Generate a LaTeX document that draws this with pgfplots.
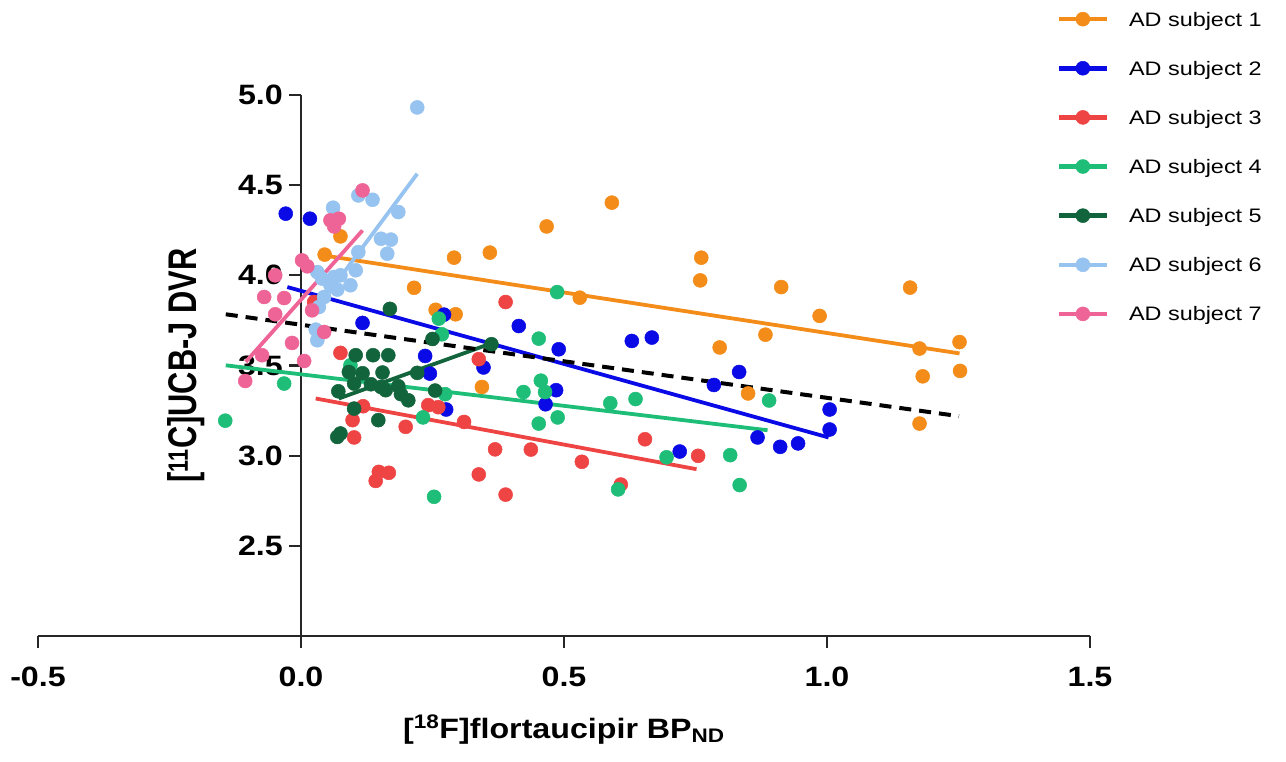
\documentclass[border=0pt]{standalone}
\usepackage{pgfplots}
\pgfplotsset{compat=1.18}
\usepackage{fontspec}
\setmainfont{Liberation Sans}
\newfontfamily\wfont[FakeStretch=1.15]{Liberation Sans}
\newfontfamily\yfont[FakeStretch=0.77]{Liberation Sans}
\newfontfamily\lfont[FakeStretch=1.2]{Liberation Sans}
\definecolor{c1}{RGB}{243,140,25}
\definecolor{c2}{RGB}{10,10,230}
\definecolor{c3}{RGB}{238,68,68}
\definecolor{c4}{RGB}{30,190,120}
\definecolor{c5}{RGB}{18,100,60}
\definecolor{c6}{RGB}{150,195,240}
\definecolor{c7}{RGB}{238,100,150}
\begin{document}
\begin{tikzpicture}
\begin{axis}[
  scale only axis, width=1052pt, height=541pt,
  xmin=-0.5, xmax=1.5, ymin=2, ymax=5,
  axis x line=bottom, axis y line=center,
  axis line style={-, line width=2.2pt, black!85},
  tick align=outside, major tick length=12pt,
  every tick/.style={black!85, line width=2.2pt},
  xtick={-0.5,0,0.5,1,1.5}, xticklabels={-0.5,0.0,0.5,1.0,1.5},
  ytick={2.5,3,3.5,4,4.5,5}, yticklabels={2.5,3.0,3.5,4.0,4.5,5.0},
  hide obscured x ticks=false, hide obscured y ticks=false,
  xticklabel style={font=\wfont\bfseries\fontsize{28}{30}\selectfont, anchor=north, inner sep=0pt, yshift=-19pt},
  yticklabel style={font=\wfont\bfseries\fontsize{28}{30}\selectfont, anchor=east, inner sep=0pt, xshift=-6pt},
  every axis x label/.style={at={(axis description cs:0.5,0)}, anchor=base, yshift=-102pt, font=\wfont\bfseries\fontsize{28}{30}\selectfont},
  every axis y label/.style={at={(axis description cs:0.151,0.5)}, rotate=90, anchor=base, font=\yfont\bfseries\fontsize{40}{44}\selectfont},
  xlabel={[\textsuperscript{18}F]flortaucipir BP\textsubscript{ND}},
  ylabel={[\textsuperscript{11}C]UCB-J DVR},
  clip=false,
  legend image code/.code={\draw[#1, mark repeat=2, mark phase=2] plot coordinates {(0pt,7pt) (23.8pt,7pt) (47.6pt,7pt)}; \path[draw=none] (0pt,0pt) -- (70pt,0pt);},
  legend style={draw=none, fill=none, at={(axis description cs:0.9683,1.1538)}, anchor=north west, inner sep=0pt, row sep=33.5pt, nodes={inner sep=0pt, anchor=base}, font=\lfont\fontsize{19.5}{22}\selectfont},
  legend cell align=left,
  every axis plot/.append style={mark size=7pt},
]
% legend images
\addlegendimage{c1, line width=4.5pt, mark=*, mark size=7pt, mark options={solid, line width=0.5pt}}
\addlegendentry{AD subject 1}
\addlegendimage{c2, line width=4.5pt, mark=*, mark size=7pt, mark options={solid, line width=0.5pt}}
\addlegendentry{AD subject 2}
\addlegendimage{c3, line width=4.5pt, mark=*, mark size=7pt, mark options={solid, line width=0.5pt}}
\addlegendentry{AD subject 3}
\addlegendimage{c4, line width=4.5pt, mark=*, mark size=7pt, mark options={solid, line width=0.5pt}}
\addlegendentry{AD subject 4}
\addlegendimage{c5, line width=4.5pt, mark=*, mark size=7pt, mark options={solid, line width=0.5pt}}
\addlegendentry{AD subject 5}
\addlegendimage{c6, line width=4.5pt, mark=*, mark size=7pt, mark options={solid, line width=0.5pt}}
\addlegendentry{AD subject 6}
\addlegendimage{c7, line width=4.5pt, mark=*, mark size=7pt, mark options={solid, line width=0.5pt}}
\addlegendentry{AD subject 7}
% subject 1
\addplot[only marks, mark=*, c1, line width=0.5pt, forget plot] coordinates {
(0.045,4.115) (0.075,4.216) (0.215,3.931) (0.256,3.809) (0.294,3.784) (0.291,4.098)
(0.359,4.126) (0.467,4.271) (0.530,3.876) (0.591,4.403) (0.344,3.381) (0.761,4.098)
(0.759,3.972) (0.796,3.600) (0.850,3.345) (0.883,3.671) (0.913,3.935) (0.986,3.775)
(1.158,3.932) (1.176,3.594) (1.176,3.178) (1.182,3.440) (1.252,3.630) (1.253,3.470)};
% subject 2
\addplot[only marks, mark=*, c2, line width=0.5pt, forget plot] coordinates {
(-0.029,4.342) (0.017,4.314) (0.117,3.736) (0.236,3.553) (0.245,3.455) (0.272,3.782)
(0.276,3.256) (0.347,3.489) (0.414,3.719) (0.465,3.285) (0.485,3.363) (0.490,3.590)
(0.629,3.636) (0.667,3.655) (0.720,3.023) (0.785,3.392) (0.833,3.464) (0.868,3.101)
(0.911,3.049) (0.945,3.068) (1.005,3.256) (1.005,3.145)};
% subject 3
\addplot[only marks, mark=*, c3, line width=0.5pt, forget plot] coordinates {
(0.025,3.852) (0.075,3.570) (0.118,3.274) (0.098,3.197) (0.101,3.101) (0.148,2.910)
(0.167,2.905) (0.142,2.860) (0.199,3.160) (0.242,3.280) (0.261,3.269) (0.310,3.187)
(0.338,3.535) (0.369,3.035) (0.338,2.896) (0.389,2.784) (0.389,3.852) (0.437,3.034)
(0.534,2.966) (0.608,2.840) (0.654,3.091) (0.755,2.999)};
% subject 4
\addplot[only marks, mark=*, c4, line width=0.5pt, forget plot] coordinates {
(-0.144,3.194) (-0.032,3.400) (0.094,3.501) (0.262,3.760) (0.268,3.673) (0.274,3.341)
(0.232,3.212) (0.253,2.772) (0.423,3.353) (0.452,3.649) (0.456,3.416) (0.464,3.353)
(0.452,3.178) (0.488,3.212) (0.487,3.907) (0.588,3.291) (0.636,3.314) (0.603,2.813)
(0.695,2.991) (0.816,3.003) (0.834,2.837) (0.890,3.306)};
% subject 5
\addplot[only marks, mark=*, c5, line width=0.5pt, forget plot] coordinates {
(0.169,3.814) (0.104,3.557) (0.137,3.557) (0.166,3.557) (0.091,3.464) (0.117,3.457)
(0.155,3.461) (0.221,3.459) (0.071,3.357) (0.101,3.400) (0.133,3.396) (0.152,3.381)
(0.161,3.363) (0.185,3.385) (0.190,3.341) (0.204,3.307) (0.255,3.361) (0.101,3.261)
(0.147,3.197) (0.069,3.104) (0.075,3.123) (0.250,3.647) (0.362,3.618)};
% subject 6
\addplot[only marks, mark=*, c6, line width=0.5pt, forget plot] coordinates {
(0.221,4.931) (0.109,4.443) (0.136,4.419) (0.061,4.375) (0.185,4.351) (0.152,4.203)
(0.171,4.198) (0.164,4.120) (0.109,4.129) (0.031,4.018) (0.040,3.982) (0.063,3.991)
(0.075,4.000) (0.104,4.028) (0.094,3.945) (0.056,3.945) (0.069,3.921) (0.044,3.880)
(0.034,3.824) (0.028,3.699) (0.031,3.640)};
% subject 7
\addplot[only marks, mark=*, c7, line width=0.5pt, forget plot] coordinates {
(0.117,4.471) (0.056,4.305) (0.072,4.314) (0.063,4.271) (0.002,4.083) (0.012,4.050)
(-0.049,4.000) (-0.070,3.880) (-0.032,3.874) (-0.049,3.784) (-0.017,3.625) (0.021,3.806)
(0.044,3.686) (0.006,3.525) (-0.074,3.557) (-0.106,3.414)};
% fit lines
\addplot[c1, line width=3.8pt, forget plot] coordinates {(0.044,4.110) (1.252,3.567)};
\addplot[c2, line width=3.8pt, forget plot] coordinates {(-0.026,3.935) (1.003,3.101)};
\addplot[c3, line width=3.8pt, forget plot] coordinates {(0.028,3.317) (0.752,2.925)};
\addplot[c4, line width=3.8pt, forget plot] coordinates {(-0.143,3.501) (0.887,3.141)};
\addplot[c5, line width=3.8pt, forget plot] coordinates {(0.072,3.317) (0.361,3.622)};
\addplot[c6, line width=3.8pt, forget plot] coordinates {(0.028,3.806) (0.221,4.563)};
\addplot[c7, line width=3.8pt, forget plot] coordinates {(-0.105,3.520) (0.117,4.249)};
\addplot[black, line width=4pt, dash pattern=on 12pt off 8pt, forget plot] coordinates {(-0.143,3.784) (1.251,3.219)};
\end{axis}
\pgfresetboundingbox
\path[use as bounding box] (-38pt,-125pt) rectangle (1248pt,636pt);
\end{tikzpicture}
\end{document}
